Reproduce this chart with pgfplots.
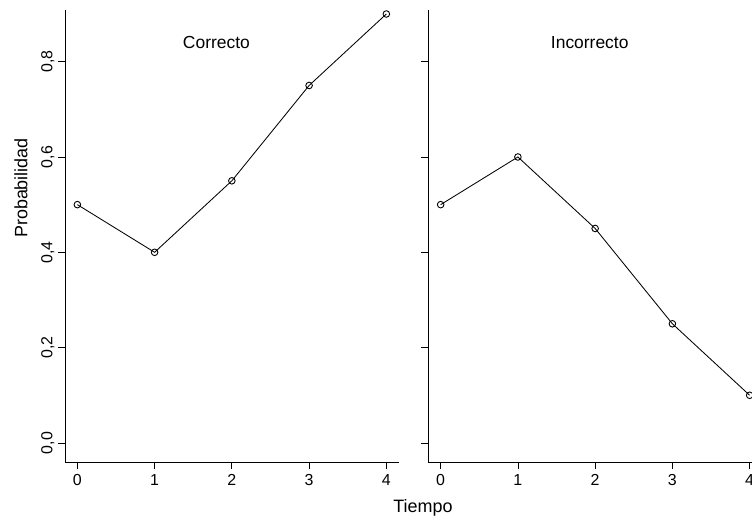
\documentclass[border=0pt]{standalone}
\usepackage{pgfplots}
\pgfplotsset{compat=1.18}
\usepackage{fontspec}
\setmainfont{Liberation Sans}
\begin{document}
\begin{tikzpicture}
\useasboundingbox (0bp,0bp) rectangle (752bp,518bp);
\clip (0bp,0bp) rectangle (752bp,518bp);
\pgfplotsset{
  panel/.style={
    scale only axis,
    anchor=south west,
    width=333.7bp, height=452bp,
    xmin=-0.16, xmax=4.16,
    ymin=-0.04, ymax=0.9084,
    axis x line*=bottom, axis y line*=left,
    axis line style={-, line width=0.8pt},
    tick style={black, line width=0.8pt},
    tick align=outside,
    major tick length=7bp,
    xtick={0,1,2,3,4},
    ytick={0,0.2,0.4,0.6,0.8},
    /pgf/number format/assume math mode=true,
    /pgf/number format/use comma,
    /pgf/number format/fixed,
    /pgf/number format/precision=1,
    ticklabel style={font=\fontsize{16}{19}\selectfont},
    yticklabel style={rotate=90, anchor=south, /pgf/number format/fixed zerofill},
    xticklabel style={anchor=north, yshift=-2bp},
    clip=false,
  },
  ser/.style={black, line width=0.85pt, mark=o, mark size=3.3bp, mark options={line width=0.9pt, fill=none}},
}
\begin{axis}[panel, at={(65bp,56bp)}]
\addplot[ser] coordinates {(0,0.5) (1,0.4) (2,0.55) (3,0.75) (4,0.9)};
\node[font=\fontsize{17.5}{20}\selectfont] at (axis cs:1.8,0.84) {Correcto};
\end{axis}
\begin{axis}[panel, at={(428.3bp,56bp)}, yticklabels={}]
\addplot[ser] coordinates {(0,0.5) (1,0.6) (2,0.45) (3,0.25) (4,0.1)};
\node[font=\fontsize{17.5}{20}\selectfont] at (axis cs:1.93,0.84) {Incorrecto};
\end{axis}
\node[rotate=90, font=\fontsize{18}{21}\selectfont] at (21bp,330bp) {Probabilidad};
\node[font=\fontsize{18}{21}\selectfont] at (423bp,10bp) {Tiempo};
\end{tikzpicture}
\end{document}
